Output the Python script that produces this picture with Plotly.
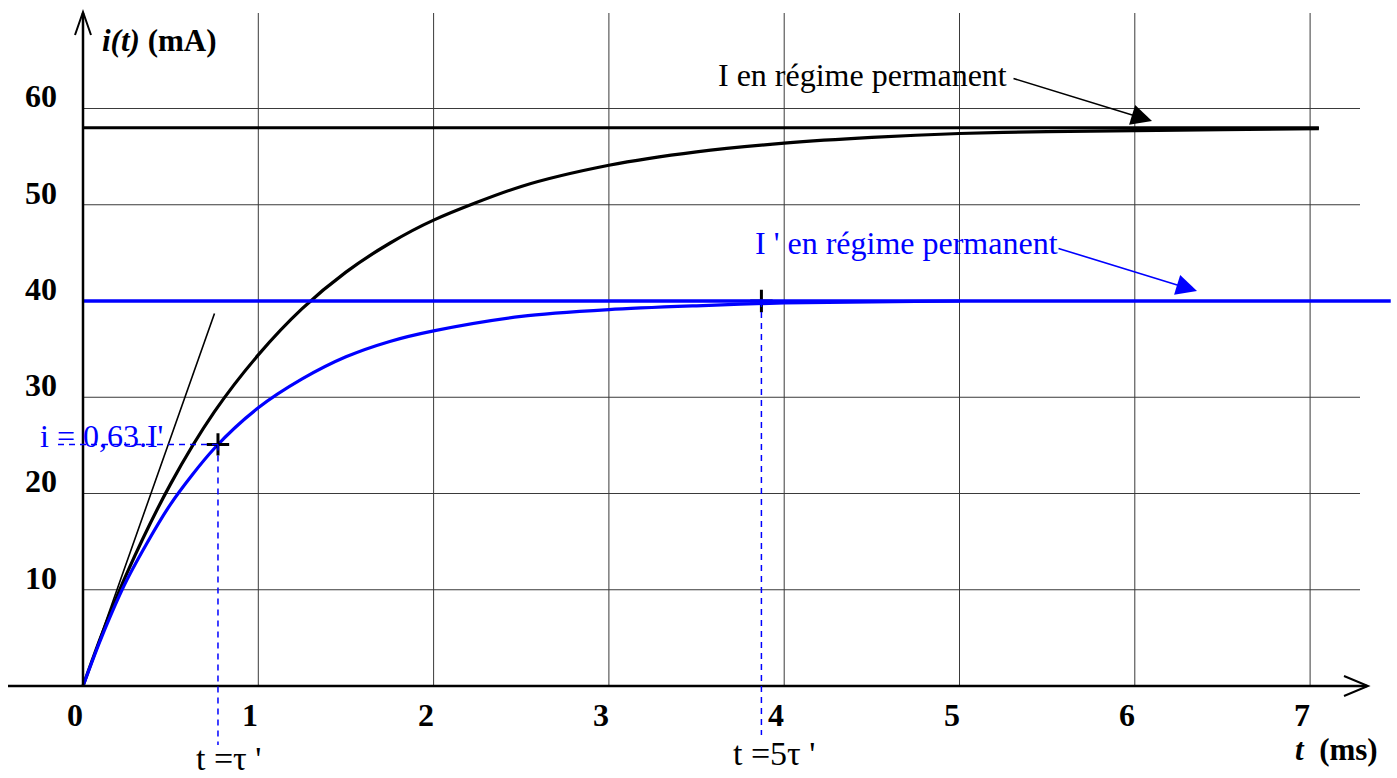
import plotly.graph_objects as go

# ---------------- data ----------------
t_black = [0, 0.1, 0.25, 0.5, 0.75, 1.0, 1.25, 1.5, 1.75, 2.0, 2.5, 3.0,
           3.5, 4.0, 4.5, 5.0, 5.5, 6.0, 6.5, 7.05]
i_black = [0, 5.0, 11.7, 21.0, 28.5, 34.4, 39.2, 43.0, 46.0, 48.4, 51.9, 54.1,
           55.5, 56.4, 57.0, 57.4, 57.6, 57.7, 57.8, 57.9]

t_blue = [0, 0.1, 0.25, 0.5, 0.75, 1.0, 1.25, 1.5, 1.75, 2.0, 2.5, 3.0,
          3.5, 4.0, 4.5, 5.0]
i_blue = [0, 4.8, 11.0, 18.9, 24.7, 28.9, 31.9, 34.2, 35.8, 36.9, 38.4, 39.1,
          39.5, 39.8, 39.9, 40.0]

steady_black_t = [0, 7.05]
steady_black_i = [58, 58]
steady_blue_t = [0, 7.46]
steady_blue_i = [40, 40]

tangent_t = [0, 0.75]
tangent_i = [0, 38.7]

tau_t = [0.77]
tau_i = [25.1]
five_tau_t = [3.87]
five_tau_i = [40]

x_ticks = [0, 1, 2, 3, 4, 5, 6, 7]
y_ticks = [10, 20, 30, 40, 50, 60]

# ---------------- page geometry (pixel -> data) ----------------
W, H = 1397, 778
X0PX, XPPU = 83.0, 175.3       # pixel of t=0, pixels per ms
Y0PX, YPPU = 686.0, 9.625      # pixel of i=0, pixels per mA


def px_x(p):
    return (p - X0PX) / XPPU


def px_y(p):
    return (Y0PX - p) / YPPU


BLUE = "#0000ff"
FONT = "Liberation Serif, Times New Roman, serif"

fig = go.Figure()

# grid
shapes = []
for v in x_ticks[1:]:
    shapes.append(dict(type="line", x0=v, x1=v, y0=0, y1=px_y(13),
                       line=dict(color="#3a3a3a", width=1), layer="below"))
for v in y_ticks:
    shapes.append(dict(type="line", x0=0, x1=px_x(1360), y0=v, y1=v,
                       line=dict(color="#3a3a3a", width=1), layer="below"))

# axes with open arrows
shapes.append(dict(type="line", x0=px_x(8), x1=px_x(1367), y0=0, y1=0,
                   line=dict(color="black", width=2.5)))
shapes.append(dict(type="line", x0=0, x1=0, y0=0, y1=px_y(13),
                   line=dict(color="black", width=2.5)))
shapes.append(dict(type="path",
                   path=f"M {px_x(1344)},{px_y(676)} L {px_x(1368)},0 L {px_x(1344)},{px_y(696)}",
                   line=dict(color="black", width=2)))
shapes.append(dict(type="path",
                   path=f"M {px_x(75)},{px_y(35)} L 0,{px_y(12)} L {px_x(91)},{px_y(35)}",
                   line=dict(color="black", width=2)))

# dashed guide lines
shapes.append(dict(type="line", x0=tau_t[0], x1=tau_t[0], y0=tau_i[0], y1=px_y(745),
                   line=dict(color=BLUE, width=1.5, dash="6px,5px")))
shapes.append(dict(type="line", x0=px_x(58), x1=tau_t[0], y0=tau_i[0], y1=tau_i[0],
                   line=dict(color=BLUE, width=1.5, dash="6px,5px")))
shapes.append(dict(type="line", x0=five_tau_t[0], x1=five_tau_t[0], y0=five_tau_i[0],
                   y1=px_y(735), line=dict(color=BLUE, width=1.5, dash="6px,5px")))

# traces
fig.add_trace(go.Scatter(x=tangent_t, y=tangent_i, mode="lines",
                         line=dict(color="black", width=1.6), hoverinfo="skip"))
fig.add_trace(go.Scatter(x=steady_black_t, y=steady_black_i, mode="lines",
                         line=dict(color="black", width=3), hoverinfo="skip"))
fig.add_trace(go.Scatter(x=t_black, y=i_black, mode="lines",
                         line=dict(color="black", width=3.2, shape="spline", smoothing=0.8),
                         hoverinfo="skip"))
fig.add_trace(go.Scatter(x=five_tau_t, y=five_tau_i, mode="markers",
                         marker=dict(symbol="cross-thin", size=16,
                                     line=dict(color="black", width=3)),
                         hoverinfo="skip"))
fig.add_trace(go.Scatter(x=steady_blue_t, y=steady_blue_i, mode="lines",
                         line=dict(color=BLUE, width=3.5), hoverinfo="skip"))
fig.add_trace(go.Scatter(x=t_blue, y=i_blue, mode="lines",
                         line=dict(color=BLUE, width=3.2, shape="spline", smoothing=0.8),
                         hoverinfo="skip"))
fig.add_trace(go.Scatter(x=tau_t, y=tau_i, mode="markers",
                         marker=dict(symbol="cross-thin", size=16,
                                     line=dict(color="black", width=3)),
                         hoverinfo="skip"))

annotations = []
# tick labels
for v in x_ticks:
    annotations.append(dict(x=v - px_x(91), y=px_y(715), text=f"<b>{v}</b>",
                            showarrow=False, xanchor="center", yanchor="middle",
                            font=dict(family=FONT, size=32, color="black")))
for v in y_ticks:
    annotations.append(dict(x=px_x(41), y=v + 1.25, text=f"<b>{v}</b>",
                            showarrow=False, xanchor="center", yanchor="middle",
                            font=dict(family=FONT, size=32, color="black")))

# axis titles
annotations.append(dict(x=px_x(100), y=px_y(40), text="<b><i>i(t)</i> (mA)</b>",
                        showarrow=False, xanchor="left", yanchor="middle",
                        font=dict(family=FONT, size=31, color="black")))
annotations.append(dict(x=px_x(1380), y=px_y(749), text="<b><i>t</i>  (ms)</b>",
                        showarrow=False, xanchor="right", yanchor="middle",
                        font=dict(family=FONT, size=31, color="black")))

# labels of the construction
annotations.append(dict(x=px_x(38), y=px_y(436), text="i = 0,63.I'",
                        showarrow=False, xanchor="left", yanchor="middle",
                        font=dict(family=FONT, size=32, color=BLUE)))
annotations.append(dict(x=px_x(228), xref="x", y=0, yref="paper", text="t =τ '",
                        showarrow=False, xanchor="center", yanchor="bottom",
                        borderpad=0,
                        font=dict(family=FONT, size=34, color="black")))
annotations.append(dict(x=px_x(774), y=px_y(753), text="t =5τ '",
                        showarrow=False, xanchor="center", yanchor="middle",
                        font=dict(family=FONT, size=34, color="black")))

annotations.append(dict(x=px_x(716), y=px_y(75), text="I en régime permanent",
                        showarrow=False, xanchor="left", yanchor="middle",
                        font=dict(family=FONT, size=32, color="black")))
annotations.append(dict(x=px_x(1152), y=px_y(121), ax=px_x(1012), ay=px_y(78),
                        xref="x", yref="y", axref="x", ayref="y", text="",
                        showarrow=True, arrowhead=2, arrowsize=2.6, arrowwidth=1.6,
                        arrowcolor="black"))
annotations.append(dict(x=px_x(753), y=px_y(243), text="I ' en régime permanent",
                        showarrow=False, xanchor="left", yanchor="middle",
                        font=dict(family=FONT, size=32, color=BLUE)))
annotations.append(dict(x=px_x(1197), y=px_y(291), ax=px_x(1057), ay=px_y(248),
                        xref="x", yref="y", axref="x", ayref="y", text="",
                        showarrow=True, arrowhead=2, arrowsize=2.6, arrowwidth=1.6,
                        arrowcolor=BLUE))

fig.update_layout(
    width=W, height=H,
    margin=dict(l=0, r=0, t=0, b=0, pad=0),
    paper_bgcolor="white", plot_bgcolor="white",
    showlegend=False,
    xaxis=dict(range=[px_x(0), px_x(W)], visible=False, fixedrange=True),
    yaxis=dict(range=[px_y(H), px_y(0)], visible=False, fixedrange=True),
    shapes=shapes,
    annotations=annotations,
    font=dict(family=FONT),
)

fig.write_html("out.html", config={"displayModeBar": False},
               post_script="document.body.style.margin='0';document.body.style.overflow='hidden';")
